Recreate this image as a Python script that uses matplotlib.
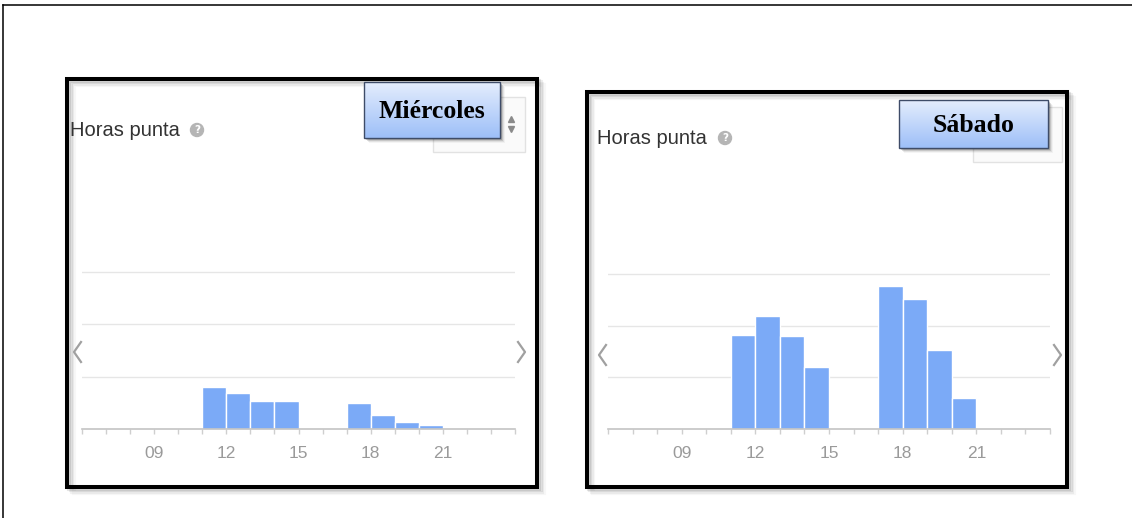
import numpy as np
import matplotlib
matplotlib.use("Agg")
import matplotlib.pyplot as plt
from matplotlib.patches import Rectangle, Circle
from matplotlib.lines import Line2D

# ---- data ----
hours = [11, 12, 13, 14, 17, 18, 19, 20]
miercoles = [0.80, 0.69, 0.53, 0.53, 0.50, 0.27, 0.13, 0.08]
sabado = [1.82, 2.19, 1.79, 1.19, 2.77, 2.52, 1.52, 0.59]
tick_hours = [9, 12, 15, 18, 21]
tick_labels = ["09", "12", "15", "18", "21"]
day_labels = ["Miércoles", "Sábado"]
title_text = "Horas punta"

W, H = 1132, 518
fig = plt.figure(figsize=(W / 100, H / 100), dpi=100)
fig.patch.set_facecolor("white")

SANS = ["Liberation Sans", "DejaVu Sans"]
BAR = "#7baaf7"

def px_axes(x0, x1, base, unit, ymax=3.6):
    top = base - ymax * unit
    return fig.add_axes([x0 / W, (H - base) / H, (x1 - x0) / W, (base - top) / H]), ymax

def draw_chart(x0, x1, base, unit, vals):
    ax, ymax = px_axes(x0, x1, base, unit)
    ax.set_xlim(6, 24)
    ax.set_ylim(0, ymax)
    ax.patch.set_visible(False)
    for g in (1, 2, 3):
        ax.axhline(g, color="#e6e6e6", lw=1.0, zorder=0)
    ax.bar(hours, vals, width=1.0, align="edge", color=BAR,
           edgecolor="white", linewidth=1.0, zorder=2)
    for s in ("top", "right", "left"):
        ax.spines[s].set_visible(False)
    ax.spines["bottom"].set_color("#c4c4c4")
    ax.spines["bottom"].set_linewidth(1.2)
    ax.set_yticks([])
    ax.set_xticks(tick_hours)
    ax.set_xticklabels(tick_labels, family=SANS, fontsize=12.5, color="#9a9a9a")
    ax.set_xticks(list(range(6, 25)), minor=True)
    ax.tick_params(axis="x", which="both", direction="out", length=3.5,
                   color="#cfcfcf", width=1.0, pad=9)
    return ax

draw_chart(82, 515, 429, 52.5, miercoles)
draw_chart(608, 1050, 429, 51.7, sabado)

# ---- overlay in pixel coordinates ----
ov = fig.add_axes([0, 0, 1, 1], zorder=10)
ov.set_xlim(0, W)
ov.set_ylim(H, 0)
ov.axis("off")
ov.patch.set_visible(False)

# outer frame (left + top)
ov.add_line(Line2D([3, 3], [4.5, H], color="black", lw=1.1))
ov.add_line(Line2D([3, W], [4.5, 4.5], color="black", lw=1.1))

def panel_border(x0, y0, x1, y1):
    for i, a in enumerate([0.10, 0.07, 0.05, 0.03]):
        d = 2 + i * 1.5
        ov.add_patch(Rectangle((x0 + d, y0 + d), x1 - x0, y1 - y0, fill=False,
                               ec="black", lw=3, alpha=a))
    ov.add_patch(Rectangle((x0, y0), x1 - x0, y1 - y0, fill=False,
                           ec="black", lw=2.9))

panel_border(67, 78.5, 537, 486.5)
panel_border(586.5, 91.5, 1067, 486.5)

def title(x, y, qx):
    ov.text(x, y, title_text, family=SANS, fontsize=14.5, color="#333333",
            va="center", ha="left")
    ov.add_patch(Circle((qx, y - 1), 6.5, color="#b5b5b5"))
    ov.text(qx, y - 1, "?", fontsize=7.5, color="white", ha="center",
            va="center", fontweight="bold", family="DejaVu Sans")

title(70, 131, 197)
title(597, 139, 725)

def dropdown(x0, y0, x1, y1, arrows=True):
    ov.add_patch(Rectangle((x0, y0), x1 - x0, y1 - y0, fc="#fafafa",
                           ec="#e2e2e2", lw=1.0))
    if arrows:
        ax_ = x1 - 14
        ov.plot([ax_], [y0 + 22], marker="^", ms=4.5, color="#8a8a8a")
        ov.plot([ax_], [y0 + 32], marker="v", ms=4.5, color="#8a8a8a")

dropdown(433, 97, 525, 152)
dropdown(973, 107, 1062, 162, arrows=False)

def chevron(x, y, left=True):
    w, h = 7, 10
    xs = [x + w, x, x + w] if left else [x, x + w, x]
    ov.add_line(Line2D(xs, [y - h, y, y + h], color="#a0a0a0", lw=1.6))

chevron(74, 352, True)
chevron(518, 352, False)
chevron(599, 355, True)
chevron(1054, 355, False)

def label_box(x0, y0, x1, y1, text):
    for i, a in enumerate([0.18, 0.12, 0.07, 0.04]):
        d = 1.5 + i * 1.3
        ov.add_patch(Rectangle((x0 + d, y0 + d), x1 - x0, y1 - y0,
                               fc="black", ec="none", alpha=a))
    top = np.array([0xe4, 0xed, 0xfd]) / 255.0
    bot = np.array([0x9d, 0xbf, 0xf8]) / 255.0
    t = np.linspace(0, 1, 64)[:, None, None]
    grad = top * (1 - t) + bot * t
    ov.imshow(grad, extent=(x0, x1, y1, y0), origin="upper", aspect="auto",
              zorder=3, interpolation="bilinear")
    ov.add_patch(Rectangle((x0, y0), x1 - x0, y1 - y0, fill=False,
                           ec="#3e4c68", lw=1.0, zorder=4))
    ov.text((x0 + x1) / 2, (y0 + y1) / 2 + 1, text,
            family=["Liberation Serif", "DejaVu Serif"], fontweight="bold",
            fontsize=18.5, color="black", ha="center", va="center", zorder=5)

label_box(364, 82, 500, 138, day_labels[0])
label_box(899, 100, 1048, 148, day_labels[1])

ov.set_xlim(0, W)
ov.set_ylim(H, 0)

fig.savefig("out.png", dpi=100, facecolor="white")
